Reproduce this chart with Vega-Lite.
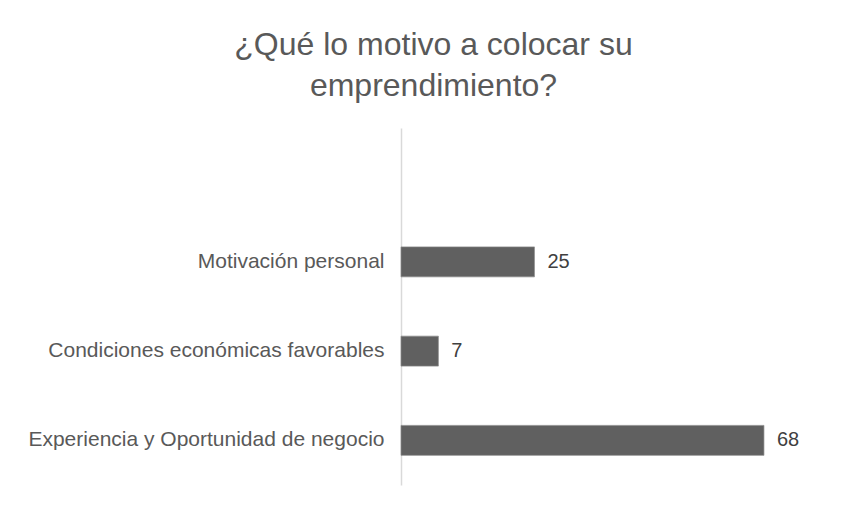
{
  "$schema": "https://vega.github.io/schema/vega-lite/v6.json",
  "autosize": "none",
  "width": 427,
  "height": 357,
  "padding": {"left": 401, "top": 128, "right": 13, "bottom": 21},
  "background": "white",
  "title": {
    "text": ["¿Qué lo motivo a colocar su", "emprendimiento?"],
    "font": "Liberation Sans",
    "fontSize": 32,
    "fontWeight": "normal",
    "color": "#595959",
    "lineHeight": 41,
    "anchor": "middle",
    "dx": -181,
    "offset": 25
  },
  "config": {
    "view": {"stroke": null},
    "font": "Liberation Sans"
  },
  "data": {
    "values": [
      {"motivo": "Motivación personal", "valor": 25},
      {"motivo": "Condiciones económicas favorables", "valor": 7},
      {"motivo": "Experiencia y Oportunidad de negocio", "valor": 68}
    ]
  },
  "encoding": {
    "y": {
      "field": "motivo",
      "type": "nominal",
      "sort": null,
      "scale": {
        "domain": ["", "Motivación personal", "Condiciones económicas favorables", "Experiencia y Oportunidad de negocio"],
        "paddingInner": 0.664,
        "paddingOuter": 0.332
      },
      "axis": {
        "title": null,
        "ticks": false,
        "labelPadding": 17,
        "labelFont": "Liberation Sans",
        "labelFontSize": 21,
        "labelColor": "#595959",
        "labelLimit": 400,
        "domainColor": "#d9d9d9",
        "domainWidth": 1.5,
        "grid": false
      }
    },
    "x": {
      "field": "valor",
      "type": "quantitative",
      "scale": {"domain": [0, 80], "nice": false},
      "axis": null
    }
  },
  "layer": [
    {
      "mark": {"type": "bar", "color": "#606060", "stroke": "#8a8a8a", "strokeWidth": 0.7}
    },
    {
      "mark": {"type": "text", "align": "left", "dx": 13, "font": "Liberation Sans", "fontSize": 20, "color": "#404040", "baseline": "middle"},
      "encoding": {"text": {"field": "valor", "type": "quantitative"}}
    }
  ]
}
